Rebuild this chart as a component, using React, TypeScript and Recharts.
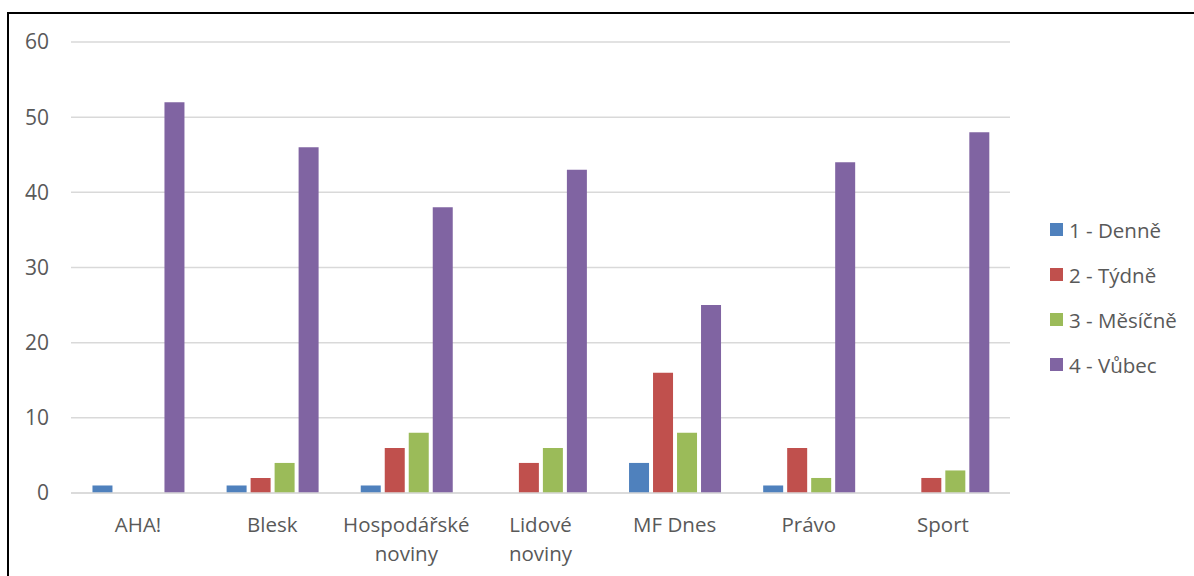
import { BarChart, Bar, XAxis, YAxis, CartesianGrid } from 'recharts'

const categories = ['AHA!', 'Blesk', 'Hospodářské noviny', 'Lidové noviny', 'MF Dnes', 'Právo', 'Sport']
const denne = [1, 1, 1, 0, 4, 1, 0]
const tydne = [0, 2, 6, 4, 16, 6, 2]
const mesicne = [0, 4, 8, 6, 8, 2, 3]
const vubec = [52, 46, 38, 43, 25, 44, 48]
const yTicks = [0, 10, 20, 30, 40, 50, 60]

const series = [
  { key: 'd', name: '1 - Denně', color: '#4F81BD' },
  { key: 't', name: '2 - Týdně', color: '#C0504D' },
  { key: 'm', name: '3 - Měsíčně', color: '#9BBB59' },
  { key: 'v', name: '4 - Vůbec', color: '#8064A2' },
]

const data = categories.map((c, i) => ({
  name: c,
  d: denne[i],
  t: tydne[i],
  m: mesicne[i],
  v: vubec[i],
}))

const FONT = '"Open Sans", sans-serif'
const TEXT = '#595959'

// eslint-disable-next-line @typescript-eslint/no-explicit-any
function CategoryTick({ x, y, payload }: any) {
  const label: string = payload.value
  const lines = label.includes(' ') && label.length > 8 ? label.split(' ') : [label]
  return (
    <text x={x} y={y} textAnchor="middle" fill={TEXT} fontSize={20.5} fontFamily={FONT}>
      {lines.map((l, i) => (
        <tspan key={i} x={x} dy={i === 0 ? 23 : 29} dominantBaseline="central">
          {l}
        </tspan>
      ))}
    </text>
  )
}

function LegendBox() {
  return (
    <div style={{ fontFamily: FONT, fontSize: 20.5, color: TEXT }}>
      {series.map(s => (
        <div key={s.key} style={{ display: 'flex', alignItems: 'center', height: 45 }}>
          <span style={{ width: 13, height: 13, background: s.color, marginRight: 6, display: 'inline-block' }} />
          <span>{s.name}</span>
        </div>
      ))}
    </div>
  )
}

export default function App() {
  return (
    <div style={{ position: 'absolute', left: 0, top: 0, width: 1194, height: 576, overflow: 'hidden', background: '#fff' }}>
      <div
        style={{
          position: 'absolute',
          left: 7,
          top: 12,
          width: 1300,
          height: 700,
          borderLeft: '2px solid #000',
          borderTop: '2px solid #000',
        }}
      />
      <div style={{ position: 'absolute', left: 0, top: 0 }}>
        <BarChart
          width={1194}
          height={576}
          data={data}
          margin={{ top: 42, right: 184, bottom: 23, left: 0 }}
          barGap={4}
          barCategoryGap="16%"
        >
          <CartesianGrid vertical={false} stroke="#D9D9D9" strokeWidth={1.5} />
          <XAxis
            dataKey="name"
            height={60}
            tickLine={false}
            axisLine={{ stroke: '#D9D9D9', strokeWidth: 1.5 }}
            tick={<CategoryTick />}
            interval={0}
          />
          <YAxis
            width={71}
            domain={[0, 60]}
            ticks={yTicks}
            axisLine={false}
            tickLine={false}
            tickSize={0}
            tickMargin={22}
            tick={{ fill: TEXT, fontSize: 21, fontFamily: FONT }}
          />
          {series.map(s => (
            <Bar key={s.key} dataKey={s.key} name={s.name} fill={s.color} isAnimationActive={false} />
          ))}
        </BarChart>
      </div>
      <div style={{ position: 'absolute', left: 1050, top: 207 }}>
        <LegendBox />
      </div>
    </div>
  )
}
